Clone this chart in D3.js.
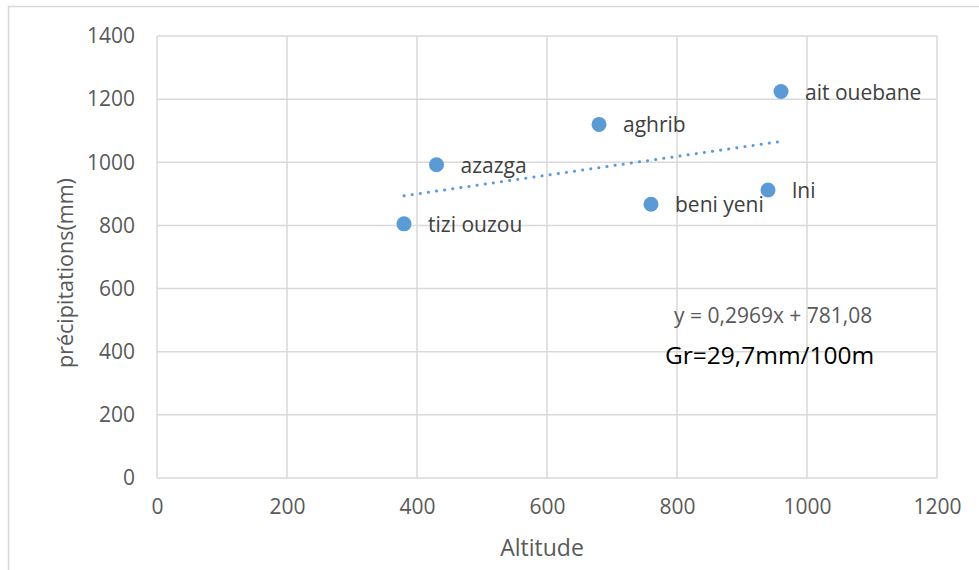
<!DOCTYPE html>
<html>
<head>
<meta charset="utf-8">
<script src="https://cdn.jsdelivr.net/npm/d3@7"></script>
<style>
  body { margin: 0; background: #fff; }
  svg text { font-family: "Open Sans", sans-serif; }
</style>
</head>
<body>
<div id="chart"></div>
<script>
// Station data: altitude (m) vs precipitation (mm)
const stations = ["tizi ouzou", "azazga", "aghrib", "beni yeni", "lni", "ait ouebane"];
const altitudes = [380, 430, 680, 760, 940, 960];
const precip = [805, 992, 1120, 867, 912, 1224];
const xTicks = [0, 200, 400, 600, 800, 1000, 1200];
const yTicks = [0, 200, 400, 600, 800, 1000, 1200, 1400];
const slope = 0.2969, intercept = 781.08;

const W = 979, H = 570;
const margin = {top: 36, right: 42, bottom: 92, left: 157};
const width = W - margin.left - margin.right,
      height = H - margin.top - margin.bottom;

const root = d3.select("#chart").append("svg")
  .attr("width", W).attr("height", H);

// chart frame (cut off at right/bottom like the source)
root.append("rect")
  .attr("x", 8.5).attr("y", 6.5)
  .attr("width", W + 10).attr("height", H + 10)
  .attr("fill", "none").attr("stroke", "#d9d9d9").attr("stroke-width", 1.5);

const svg = root.append("g")
  .attr("transform", `translate(${margin.left},${margin.top})`);

const x = d3.scaleLinear().domain([0, 1200]).range([0, width]);
const y = d3.scaleLinear().domain([0, 1400]).range([height, 0]);

// gridlines
svg.append("g").selectAll("line").data(yTicks).enter().append("line")
  .attr("x1", 0).attr("x2", width)
  .attr("y1", d => y(d)).attr("y2", d => y(d))
  .attr("stroke", "#d9d9d9").attr("stroke-width", 1.5);
svg.append("g").selectAll("line").data(xTicks).enter().append("line")
  .attr("y1", 0).attr("y2", height)
  .attr("x1", d => x(d)).attr("x2", d => x(d))
  .attr("stroke", "#d9d9d9").attr("stroke-width", 1.5);

// axes (labels only)
const xAxis = svg.append("g")
  .attr("transform", `translate(0,${height})`)
  .call(d3.axisBottom(x).tickValues(xTicks).tickFormat(d3.format("d")).tickSize(0).tickPadding(21));
const yAxis = svg.append("g")
  .call(d3.axisLeft(y).tickValues(yTicks).tickFormat(d3.format("d")).tickSize(0).tickPadding(22));
[xAxis, yAxis].forEach(a => {
  a.select(".domain").remove();
  a.attr("font-family", "'Open Sans', sans-serif").attr("font-size", 21);
  a.selectAll("text").attr("fill", "#595959");
});

// axis titles
svg.append("text")
  .attr("text-anchor", "middle")
  .attr("x", width / 2 - 5).attr("y", height + 78)
  .attr("fill", "#595959").style("font-size", "23px")
  .text("Altitude");
svg.append("text")
  .attr("text-anchor", "middle")
  .attr("transform", `translate(-84,${height / 2 + 16}) rotate(-90)`)
  .attr("fill", "#595959").style("font-size", "21.5px")
  .text("précipitations(mm)");

// linear trendline
const xMin = d3.min(altitudes), xMax = d3.max(altitudes);
svg.append("line")
  .attr("x1", x(xMin)).attr("y1", y(slope * xMin + intercept))
  .attr("x2", x(xMax)).attr("y2", y(slope * xMax + intercept))
  .attr("stroke", "#5b9bd5").attr("stroke-width", 3)
  .attr("stroke-linecap", "round").attr("stroke-dasharray", "0.1 8.1");

const data = stations.map((s, i) => ({name: s, alt: altitudes[i], p: precip[i]}));

// points
svg.selectAll(".pt").data(data).enter().append("circle")
  .attr("cx", d => x(d.alt)).attr("cy", d => y(d.p))
  .attr("r", 7.5).attr("fill", "#5b9bd5");

// point labels
svg.selectAll(".lbl").data(data).enter().append("text")
  .attr("x", d => x(d.alt) + 24).attr("y", d => y(d.p) + 8)
  .attr("fill", "#404040").style("font-size", "21px")
  .text(d => d.name);

// equation & gradient annotation
svg.append("text")
  .attr("x", x(800) - 3).attr("y", y(400) - 29)
  .attr("fill", "#595959").style("font-size", "21px")
  .text("y = 0,2969x + 781,08");
svg.append("text")
  .attr("x", x(800) - 12).attr("y", y(400) + 12)
  .attr("fill", "#000").style("font-size", "24.5px")
  .text("Gr=29,7mm/100m");
</script>
</body>
</html>
